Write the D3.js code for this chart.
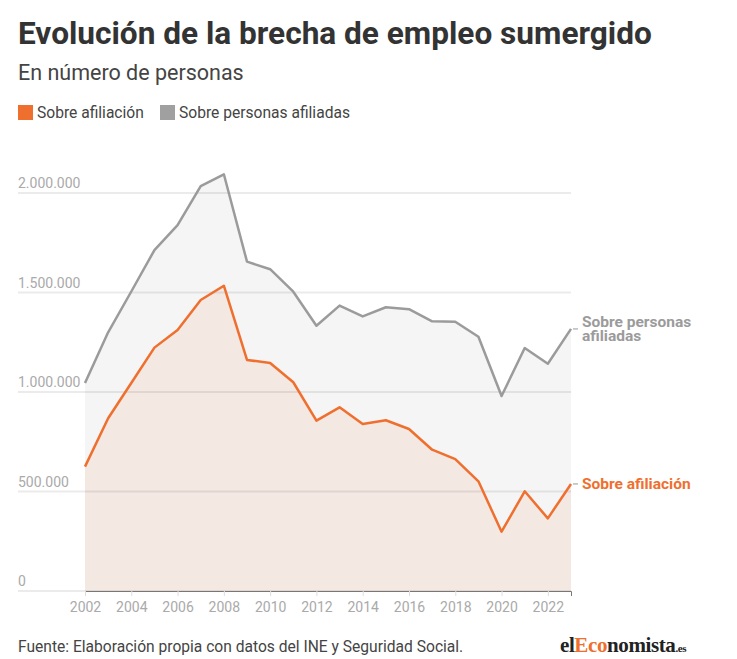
<!DOCTYPE html>
<html>
<head>
<meta charset="utf-8">
<script src="https://cdn.jsdelivr.net/npm/d3@7"></script>
<style>
  body { margin: 0; background: #fff; font-family: Roboto, "Noto Sans", sans-serif; }
</style>
</head>
<body>
<svg id="chart" width="737" height="659"></svg>
<script>
// data
var years = d3.range(2002, 2024);
var sobreAfiliacion = [625000, 868000, 1045000, 1223000, 1312000, 1462000, 1534000, 1161000, 1146000, 1049000, 856000,
                       923000, 839000, 858000, 814000, 710000, 663000, 551000, 298000, 501000, 365000, 538000];
var sobrePersonas = [1045000, 1300000, 1505000, 1713000, 1839000, 2035000, 2094000, 1655000, 1617000, 1504000, 1333000,
                     1434000, 1380000, 1426000, 1416000, 1355000, 1353000, 1278000, 980000, 1221000, 1142000, 1317000];
var yTicks = [0, 500000, 1000000, 1500000, 2000000];
var xTicks = d3.range(2002, 2023, 2);

var orange = "#ef6f2e", grey = "#9b9b9b";

var svg = d3.select("#chart");

var x = d3.scaleLinear().domain([2002, 2023]).range([85, 571]);
var y = d3.scaleLinear().domain([0, 2000000]).range([591, 193]);

// titles
svg.append("text").attr("x", 18).attr("y", 44)
  .style("font-size", "31.6px").style("font-weight", "bold").style("fill", "#333")
  .text("Evolución de la brecha de empleo sumergido");
svg.append("text").attr("x", 18).attr("y", 80)
  .style("font-size", "21.5px").style("fill", "#444")
  .text("En número de personas");

// legend
var legend = [{ name: "Sobre afiliación", color: orange, x: 18 },
              { name: "Sobre personas afiliadas", color: "#a0a0a0", x: 160 }];
var lg = svg.selectAll(".lg").data(legend).enter().append("g")
  .attr("transform", function (d) { return "translate(" + d.x + ",105)"; });
lg.append("rect").attr("width", 15).attr("height", 15).style("fill", function (d) { return d.color; });
lg.append("text").attr("x", 19).attr("y", 13)
  .style("font-size", "15.6px").style("fill", "#444").text(function (d) { return d.name; });

// areas
var rows = years.map(function (yr, i) { return { yr: yr, a: sobreAfiliacion[i], p: sobrePersonas[i] }; });

var areaP = d3.area().x(function (d) { return x(d.yr); }).y0(y(0)).y1(function (d) { return y(d.p); });
var areaA = d3.area().x(function (d) { return x(d.yr); }).y0(y(0)).y1(function (d) { return y(d.a); });
svg.append("path").datum(rows).attr("d", areaP).style("fill", "#f5f5f5");
svg.append("path").datum(rows).attr("d", areaA).style("fill", "#f4e8e3");

// gridlines + y labels
var grid = svg.selectAll(".grid").data(yTicks).enter().append("g");
grid.append("line")
  .attr("x1", 18).attr("x2", 571)
  .attr("y1", function (d) { return y(d); }).attr("y2", function (d) { return y(d); })
  .style("stroke", "#000").style("stroke-opacity", 0.08).style("stroke-width", 2);
grid.append("text").attr("x", 18).attr("y", function (d) { return y(d) - 5; })
  .style("font-size", "14px").style("fill", "#aaa")
  .text(function (d) { return d3.format(",")(d).replace(/,/g, "."); });

// x axis
var xAxis = svg.append("g").attr("transform", "translate(0," + y(0) + ")")
  .call(d3.axisBottom(x).tickValues(xTicks).tickFormat(d3.format("d")).tickSize(5).tickPadding(6));
xAxis.select(".domain").style("stroke", "#777");
xAxis.selectAll(".tick line").style("stroke", "#ddd");
xAxis.selectAll("text").style("font-size", "14px").style("fill", "#aaa")
  .style("font-family", "Roboto, sans-serif");

// lines
var lineP = d3.line().x(function (d) { return x(d.yr); }).y(function (d) { return y(d.p); });
var lineA = d3.line().x(function (d) { return x(d.yr); }).y(function (d) { return y(d.a); });
svg.append("path").datum(rows).attr("d", lineP)
  .style("fill", "none").style("stroke", grey).style("stroke-width", 2.5).style("stroke-linejoin", "round");
svg.append("path").datum(rows).attr("d", lineA)
  .style("fill", "none").style("stroke", orange).style("stroke-width", 2.5).style("stroke-linejoin", "round");

// end labels
var last = rows[rows.length - 1];
var ends = [{ v: last.p, color: grey, lines: ["Sobre personas", "afiliadas"] },
            { v: last.a, color: orange, lines: ["Sobre afiliación"] }];
var eg = svg.selectAll(".end").data(ends).enter().append("g");
eg.append("line").attr("x1", 573).attr("x2", 578)
  .attr("y1", function (d) { return y(d.v); }).attr("y2", function (d) { return y(d.v); })
  .style("stroke", "#bbb").style("stroke-width", 1.5);
eg.each(function (d) {
  var t = d3.select(this).append("text").attr("x", 582)
    .attr("y", y(d.v) - (d.lines.length - 1) * 7 + 5)
    .style("font-size", "15.5px").style("font-weight", "bold").style("fill", d.color);
  d.lines.forEach(function (l, i) {
    t.append("tspan").attr("x", 582).attr("dy", i ? 14 : 0).text(l);
  });
});

// footer
svg.append("text").attr("x", 18).attr("y", 652)
  .style("font-size", "15.6px").style("fill", "#444")
  .text("Fuente: Elaboración propia con datos del INE y Seguridad Social.");
var logo = svg.append("text").attr("x", 560).attr("y", 652)
  .style("font-family", "'Liberation Serif', 'DejaVu Serif', serif").style("font-weight", "bold")
  .style("font-size", "21px").style("fill", "#222").style("letter-spacing", "-0.4px");
logo.append("tspan").text("el");
logo.append("tspan").style("fill", orange).text("Eco");
logo.append("tspan").text("nomista");
logo.append("tspan").style("font-size", "11px").text(".es");
</script>
</body>
</html>
